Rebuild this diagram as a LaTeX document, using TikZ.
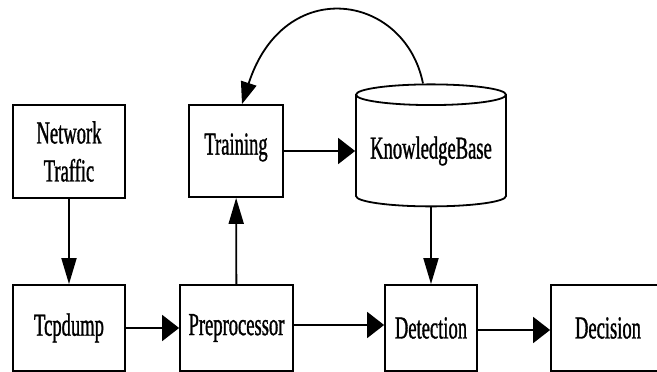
\documentclass[tikz,border=0pt]{standalone}
\usepackage{fontspec}
\setmainfont{Liberation Serif}
\newfontfamily\boxfont[FakeStretch=0.58,FakeBold=1]{Liberation Serif}
\usepackage{tikz}
\usetikzlibrary{shapes.geometric,arrows.meta}

\tikzset{
  box/.style={draw, line width=1.8pt, minimum height=86pt, inner sep=0pt,
    font=\boxfont\fontsize{32}{38}\selectfont, align=center},
  hflow/.style={line width=1.8pt, -{Triangle[length=17pt,width=26pt]}},
  vflow/.style={line width=1.8pt, -{Triangle[length=26pt,width=15pt]}},
  bend flow/.style={line width=1.8pt, -{Triangle[length=22pt,width=16pt]}}
}

\begin{document}
\begin{tikzpicture}[x=1pt,y=-1pt]

\clip (0,0) rectangle (657,372);

% upper row
\node[box, minimum width=112pt, minimum height=93pt] (traffic) at (69,151.5) {Network\\Traffic};
\node[box, minimum width=94pt, minimum height=92pt, text depth=14pt] (training) at (236,151) {Training};
\node[draw, line width=1.8pt, cylinder, shape border rotate=90, aspect=0.17,
  minimum width=150pt, minimum height=122pt, inner sep=0pt,
  font=\boxfont\fontsize{32}{38}\selectfont] (kb) at (431,151) {KnowledgeBase};

% lower row, cut by the bottom edge
\node[box, minimum width=112pt] (tcpdump) at (69,328) {Tcpdump};
\node[box, minimum width=113pt] (prep) at (236.5,328) {Preprocessor};
\node[box, minimum width=92pt] (det) at (431,328) {Detection};
\node[box, minimum width=114pt] (dec) at (608,328) {Decision};

\draw[vflow] (traffic) -- (tcpdump);
\draw[hflow] (tcpdump) -- (prep);
\draw[vflow] (prep) -- (training);
\draw[hflow] (training) -- (kb);
\draw[vflow] (kb) -- (det);
\draw[hflow] (prep.east |- 0,325) -- (det.west |- 0,325);
\draw[hflow] (det.east |- 0,330) -- (dec.west |- 0,330);

% feedback from the knowledge base
\draw[bend flow] ([xshift=-8pt]kb.north) .. controls +(-18,-90) and +(42,-130) .. ([xshift=6pt]training.north);

\end{tikzpicture}
\end{document}
